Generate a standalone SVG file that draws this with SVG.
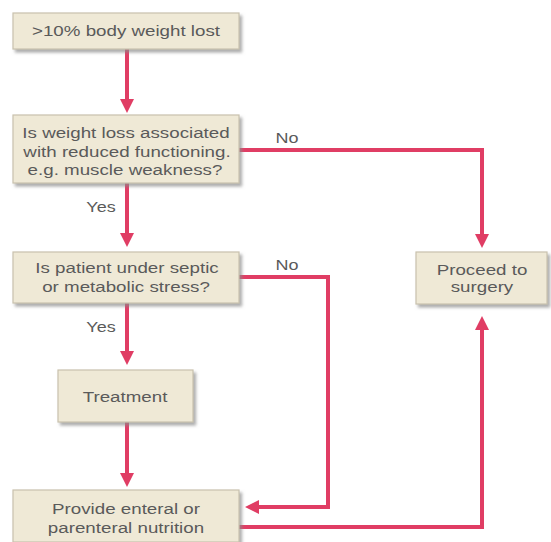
<svg xmlns="http://www.w3.org/2000/svg" width="551" height="542" viewBox="0 0 551 542">
<defs>
<style>
.box{fill:#efe9d6;stroke:#c9c1ad;stroke-width:1.2;filter:url(#sh)}
.t{font-family:"Liberation Sans",Arial,sans-serif;font-size:15px;fill:#5a5a5a;text-anchor:middle}
.c{fill:none;stroke:#e03d64;stroke-width:4;stroke-linejoin:miter}
</style>
<filter id="sh" x="-10%" y="-10%" width="130%" height="140%">
<feDropShadow dx="2.5" dy="3" stdDeviation="1.5" flood-color="#8a8a8a" flood-opacity="0.7"/>
</filter>
<marker id="ah" viewBox="0 0 14 14" markerWidth="14" markerHeight="14" refX="2" refY="7" orient="auto" markerUnits="userSpaceOnUse">
<path d="M0,0 L14,7 L0,14 z" fill="#e03d64"/>
</marker>
</defs>
<rect width="551" height="542" fill="#ffffff"/>
<g id="connectors">
<path class="c" d="M127,49 V101" marker-end="url(#ah)"/>
<path class="c" d="M127,183 V235" marker-end="url(#ah)"/>
<path class="c" d="M127,303 V353" marker-end="url(#ah)"/>
<path class="c" d="M127,422 V475" marker-end="url(#ah)"/>
<path class="c" d="M239,150 H482 V236" marker-end="url(#ah)"/>
<path class="c" d="M239,277 H328 V507 H257" marker-end="url(#ah)"/>
<path class="c" d="M239,527 H482 V328" marker-end="url(#ah)"/>
<text class="t" transform="translate(287,143) scale(1.2,1)">No</text>
<text class="t" transform="translate(287,270) scale(1.2,1)">No</text>
<text class="t" transform="translate(101,212) scale(1.2,1)">Yes</text>
<text class="t" transform="translate(101,332) scale(1.2,1)">Yes</text>
</g>
<g id="n1">
<rect class="box" x="13" y="13" width="226" height="36"/>
<text class="t" transform="translate(126,36) scale(1.25,1)">&gt;10% body weight lost</text>
</g>
<g id="n2">
<rect class="box" x="13" y="115" width="226" height="68"/>
<text class="t" transform="translate(126,138) scale(1.25,1)">Is weight loss associated</text>
<text class="t" transform="translate(127,157) scale(1.25,1)">with reduced functioning.</text>
<text class="t" transform="translate(125,175) scale(1.25,1)">e.g. muscle weakness?</text>
</g>
<g id="n3">
<rect class="box" x="13" y="252" width="226" height="51"/>
<text class="t" transform="translate(127,273) scale(1.25,1)">Is patient under septic</text>
<text class="t" transform="translate(126,292) scale(1.25,1)">or metabolic stress?</text>
</g>
<g id="n4">
<rect class="box" x="58" y="370" width="135" height="52"/>
<text class="t" transform="translate(125,402) scale(1.25,1)">Treatment</text>
</g>
<g id="n5">
<rect class="box" x="13" y="490" width="226" height="52"/>
<text class="t" transform="translate(126,514) scale(1.25,1)">Provide enteral or</text>
<text class="t" transform="translate(126,533) scale(1.25,1)">parenteral nutrition</text>
</g>
<g id="n6">
<rect class="box" x="416" y="252" width="131" height="52"/>
<text class="t" transform="translate(482,275) scale(1.25,1)">Proceed to</text>
<text class="t" transform="translate(482,292) scale(1.25,1)">surgery</text>
</g>
</svg>
